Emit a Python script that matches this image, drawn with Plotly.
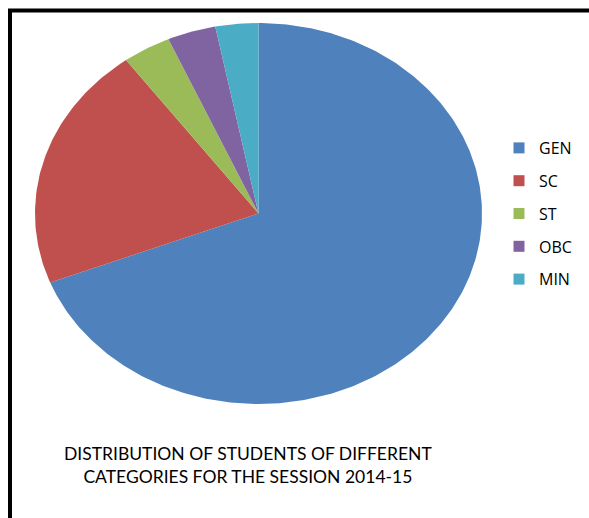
import numpy as np
import plotly.graph_objects as go

categories = ["GEN", "SC", "ST", "OBC", "MIN"]
values = [69.1, 20.8, 3.5, 3.5, 3.1]
colors = ["#4F81BD", "#C0504D", "#9BBB59", "#8064A2", "#4BACC6"]
title_text = "DISTRIBUTION OF STUDENTS OF DIFFERENT<br>CATEGORIES FOR THE SESSION 2014-15"

W, H = 589, 518
fig = go.Figure()

total = float(sum(values))
start = 0.0
for cat, val, col in zip(categories, values, colors):
    a0 = start / total * 2 * np.pi
    a1 = (start + val) / total * 2 * np.pi
    t = np.linspace(a0, a1, max(int(val * 4), 8))
    xs = np.concatenate([[0], np.sin(t), [0]])
    ys = np.concatenate([[0], np.cos(t), [0]])
    fig.add_trace(go.Scatter(x=xs, y=ys, mode="lines", fill="toself",
                             fillcolor=col, line=dict(width=0, color=col),
                             name=cat, showlegend=False, hoverinfo="name"))
    start += val

for i, (cat, col) in enumerate(zip(categories, colors)):
    fig.add_trace(go.Scatter(x=[None], y=[None], mode="markers",
                             marker=dict(symbol="square", size=11, color=col),
                             name=cat, legendgroup=str(i), showlegend=True))

fig.update_layout(
    width=W, height=H,
    margin=dict(l=0, r=0, t=0, b=0),
    paper_bgcolor="white", plot_bgcolor="white",
    xaxis=dict(range=[-1, 1], domain=[35 / W, 482 / W], visible=False, fixedrange=True),
    yaxis=dict(range=[-1, 1], domain=[(H - 404) / H, (H - 23) / H], visible=False, fixedrange=True),
    legend=dict(x=499 / W, y=1 - 131 / H, xanchor="left", yanchor="top",
                font=dict(family="Open Sans", size=16, color="#000000"),
                traceorder="grouped", tracegroupgap=9, itemwidth=30,
                bgcolor="rgba(0,0,0,0)"),
    showlegend=True,
    annotations=[dict(text=title_text, x=248 / W, y=1 - 465 / H, xref="paper", yref="paper",
                      showarrow=False, xanchor="center", yanchor="middle",
                      font=dict(family="Lato", size=17.5, color="#000000"))],
    shapes=[dict(type="rect", xref="paper", yref="paper",
                 x0=10 / W, x1=1.05, y0=-0.05, y1=1 - 10.5 / H,
                 line=dict(color="black", width=4))],
)

fig.write_html("out.html")
